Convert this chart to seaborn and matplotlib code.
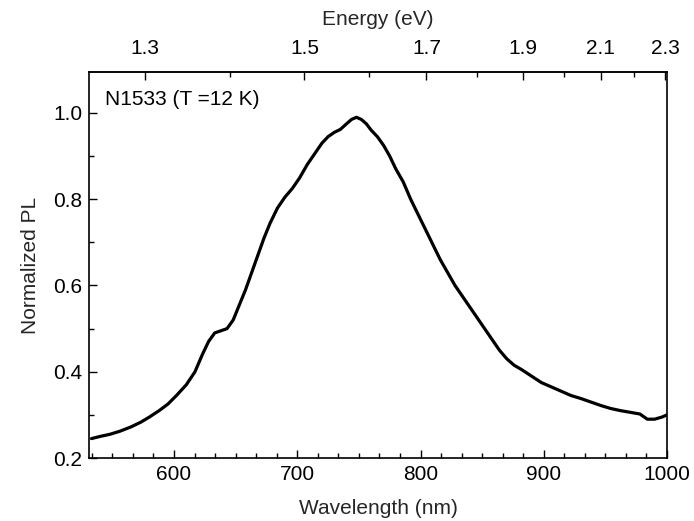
import numpy as np
import pandas as pd
import matplotlib
matplotlib.use("Agg")
import matplotlib.pyplot as plt
from matplotlib.ticker import MultipleLocator, FixedLocator, FormatStrFormatter
import seaborn as sns

# ---- data ----
wavelength = [533, 540, 548, 556, 565, 573, 580, 588, 595, 602, 610, 617, 623, 628,
              633, 638, 643, 648, 653, 658, 663, 668, 673, 678, 684, 690, 696, 702,
              708, 714, 720, 725, 730, 735, 740, 744, 748, 752, 756, 760, 765, 770,
              775, 780, 786, 792, 798, 804, 810, 816, 822, 828, 834, 840, 846, 852,
              858, 864, 870, 876, 882, 890, 898, 906, 914, 922, 930, 938, 946, 954,
              962, 970, 978, 984, 990, 996, 1000]
pl = [0.245, 0.250, 0.255, 0.262, 0.272, 0.283, 0.295, 0.310, 0.325, 0.345, 0.370,
      0.400, 0.440, 0.470, 0.490, 0.495, 0.500, 0.520, 0.555, 0.590, 0.630, 0.670,
      0.710, 0.745, 0.780, 0.805, 0.825, 0.850, 0.880, 0.905, 0.930, 0.945, 0.955,
      0.962, 0.975, 0.985, 0.990, 0.985, 0.975, 0.960, 0.945, 0.925, 0.900, 0.870,
      0.840, 0.800, 0.765, 0.730, 0.695, 0.660, 0.630, 0.600, 0.575, 0.550, 0.525,
      0.500, 0.475, 0.450, 0.430, 0.415, 0.405, 0.390, 0.375, 0.365, 0.355, 0.345,
      0.338, 0.330, 0.322, 0.315, 0.310, 0.306, 0.302, 0.290, 0.290, 0.295, 0.300]

energy_major = [1.3, 1.5, 1.7, 1.9, 2.1, 2.3]
energy_minor = [1.4, 1.6, 1.8, 2.0, 2.2]
wl_ticks = [600, 700, 800, 900, 1000]
y_ticks = [0.2, 0.4, 0.6, 0.8, 1.0]
sample_label = "N1533 (T =12 K)"

df = pd.DataFrame({"Wavelength (nm)": wavelength, "Normalized PL": pl})

sns.set_theme(style="ticks")
plt.rcParams['font.family'] = ['Liberation Sans', 'DejaVu Sans']

FS = 15
fig = plt.figure(figsize=(6.94, 5.21), dpi=100)
ax = fig.add_axes([89/694, 1 - 458/521, (667-89)/694, (458-72)/521])

sns.lineplot(data=df, x="Wavelength (nm)", y="Normalized PL", ax=ax,
             color="black", linewidth=2.3)

ax.set_xlim(531, 1000)
ax.set_ylim(0.2, 1.095)
ax.set_xticks(wl_ticks)
ax.xaxis.set_minor_locator(MultipleLocator(100/6))
ax.set_yticks(y_ticks)
ax.yaxis.set_minor_locator(MultipleLocator(0.1))
ax.yaxis.set_major_formatter(FormatStrFormatter('%.1f'))

ax.tick_params(which='both', direction='in', top=False, right=False,
               labelsize=FS, colors='black', width=1.0)
ax.tick_params(which='major', length=6, pad=5)
ax.tick_params(which='minor', length=3.5)
for s in ax.spines.values():
    s.set_color('black')
    s.set_linewidth(1.2)

ax.set_xlabel("Wavelength (nm)", fontsize=FS, labelpad=11)
ax.set_ylabel("Normalized PL", fontsize=FS, labelpad=9)

# top energy axis (mapping as drawn in the reference)
c_map, k_map = 1547.5, 1262.6
def wl2e(x):
    x = np.asarray(x, dtype=float)
    return k_map / np.clip(c_map - x, 1e-6, None)
def e2wl(e):
    e = np.asarray(e, dtype=float)
    return c_map - k_map / np.clip(e, 1e-6, None)

sec = ax.secondary_xaxis('top', functions=(wl2e, e2wl))
sec.xaxis.set_major_locator(FixedLocator(energy_major))
sec.xaxis.set_minor_locator(FixedLocator(energy_minor))
sec.xaxis.set_major_formatter(FormatStrFormatter('%.1f'))
sec.tick_params(which='both', direction='in', labelsize=FS, colors='black', width=1.0)
sec.tick_params(which='major', length=6, pad=10)
sec.tick_params(which='minor', length=3.5)
sec.set_xlabel("Energy (eV)", fontsize=FS, labelpad=10)
sec.spines['top'].set_linewidth(1.2)

ax.text(0.028, 0.93, sample_label, transform=ax.transAxes, fontsize=FS,
        ha='left', va='center', color='black')

fig.savefig("out.png", dpi=100)
